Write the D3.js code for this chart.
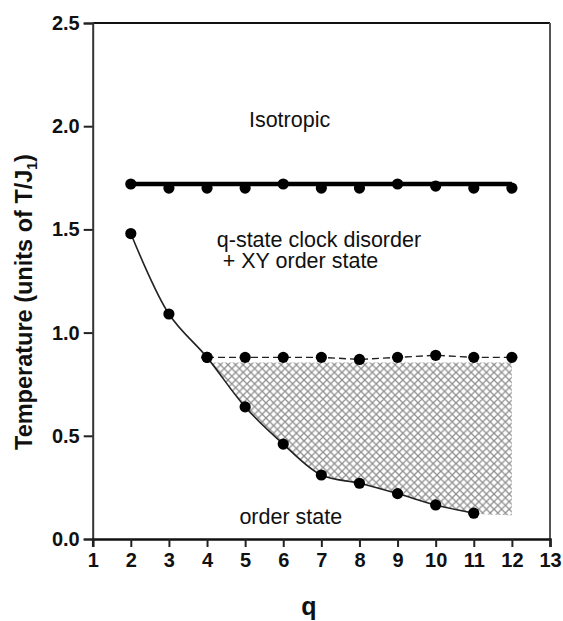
<!DOCTYPE html>
<html>
<head>
<meta charset="utf-8">
<script src="https://cdn.jsdelivr.net/npm/d3@7"></script>
<style>
  html, body { margin: 0; padding: 0; background: #fff; }
  svg { display: block; font-family: "Liberation Sans", Arial, sans-serif; }
</style>
</head>
<body>
<svg id="chart" width="563" height="621"></svg>
<script>
// ---- data ----
const qValues = [2, 3, 4, 5, 6, 7, 8, 9, 10, 11, 12];
const isotropicT = [1.72, 1.70, 1.70, 1.70, 1.72, 1.70, 1.70, 1.72, 1.71, 1.70, 1.70];
const isotropicLineT = 1.72;
const lowerQ = [2, 3, 4, 5, 6, 7, 8, 9, 10, 11];
const lowerT = [1.48, 1.09, 0.88, 0.64, 0.46, 0.31, 0.27, 0.22, 0.165, 0.125];
const dashedQ = [4, 5, 6, 7, 8, 9, 10, 11, 12];
const dashedT = [0.88, 0.88, 0.88, 0.88, 0.87, 0.88, 0.89, 0.88, 0.88];
const hatchQ = [2, 3, 4, 5, 6, 7, 8, 9, 10, 11, 12];
const hatchLowT = [1.48, 1.09, 0.88, 0.64, 0.46, 0.31, 0.27, 0.22, 0.165, 0.125, 0.115];
const hatchTopT = 0.855;
const hatchRangeQ = [4, 12];
const xTicks = [1, 2, 3, 4, 5, 6, 7, 8, 9, 10, 11, 12, 13];
const yTicks = [0.0, 0.5, 1.0, 1.5, 2.0, 2.5];
const labels = [
  { text: "Isotropic", q: 5.1, t: 1.998 },
  { text: "q-state clock disorder", q: 4.256, t: 1.416 },
  { text: " + XY order state", q: 4.256, t: 1.311 },
  { text: "order state", q: 4.85, t: 0.072 }
];

// ---- layout ----
const svg = d3.select("#chart");
const x = d3.scaleLinear().domain([1, 13]).range([92.7, 550]);
const y = d3.scaleLinear().domain([0, 2.5]).range([539, 23]);

// hatch pattern
const defs = svg.append("defs");
const P = 7.6;
const pat = defs.append("pattern")
  .attr("id", "hatch").attr("patternUnits", "userSpaceOnUse")
  .attr("width", P).attr("height", P);
pat.append("path")
  .attr("d", `M${-P/2},${P/2} L${P/2},${-P/2} M0,${P} L${P},0 M${P/2},${P*1.5} L${P*1.5},${P/2}` +
             ` M${-P/2},${P/2} L${P/2},${P*1.5} M0,0 L${P},${P} M${P/2},${-P/2} L${P*1.5},${P/2}`)
  .attr("stroke", "#8e8e8e").attr("stroke-width", 1.3).attr("fill", "none");

// clip: region above the lower curve
const clipArea = d3.area()
  .x((d, i) => x(hatchQ[i]))
  .y0(() => y(2.5))
  .y1(d => y(d))
  .curve(d3.curveCatmullRom.alpha(0.5));
defs.append("clipPath").attr("id", "aboveCurve")
  .append("path").attr("d", clipArea(hatchLowT));

svg.append("rect")
  .attr("x", x(hatchRangeQ[0]))
  .attr("y", y(hatchTopT))
  .attr("width", x(hatchRangeQ[1]) - x(hatchRangeQ[0]))
  .attr("height", y(0) - y(hatchTopT))
  .attr("fill", "url(#hatch)")
  .attr("clip-path", "url(#aboveCurve)");

// frame (top and right)
svg.append("line").attr("x1", x(1)).attr("x2", x(13)).attr("y1", y(2.5)).attr("y2", y(2.5))
  .attr("stroke", "#111").attr("stroke-width", 2);
svg.append("line").attr("x1", x(13)).attr("x2", x(13)).attr("y1", y(2.5)).attr("y2", y(0))
  .attr("stroke", "#555").attr("stroke-width", 2);

// axes
const yAxis = svg.append("g").attr("transform", `translate(${x(1)},0)`)
  .call(d3.axisLeft(y).tickValues(yTicks).tickFormat(d3.format(".1f")).tickSize(9).tickPadding(4));
const xAxis = svg.append("g").attr("transform", `translate(0,${y(0)})`)
  .call(d3.axisBottom(x).tickValues(xTicks).tickFormat(d3.format("d")).tickSize(8).tickPadding(6));
[yAxis, xAxis].forEach(g => {
  g.selectAll("path.domain").attr("stroke", "#333").attr("stroke-width", 2);
  g.selectAll(".tick line").attr("stroke", "#222").attr("stroke-width", 2);
  g.selectAll(".tick text").attr("fill", "#111")
    .style("font-size", "20px").style("font-weight", "bold")
    .style("font-family", '"Liberation Sans", Arial, sans-serif');
});
xAxis.select("path.domain").attr("stroke", "#111").attr("stroke-width", 2.5);

// thick isotropic line
svg.append("line")
  .attr("x1", x(qValues[0])).attr("x2", x(qValues[qValues.length - 1]))
  .attr("y1", y(isotropicLineT)).attr("y2", y(isotropicLineT))
  .attr("stroke", "#000").attr("stroke-width", 4.5);

// lower curve
const lineCurve = d3.line()
  .x((d, i) => x(lowerQ[i])).y(d => y(d))
  .curve(d3.curveCatmullRom.alpha(0.5));
svg.append("path").attr("d", lineCurve(lowerT))
  .attr("fill", "none").attr("stroke", "#222").attr("stroke-width", 1.6);

// dashed line
const lineDash = d3.line().x((d, i) => x(dashedQ[i])).y(d => y(d));
svg.append("path").attr("d", lineDash(dashedT))
  .attr("fill", "none").attr("stroke", "#222").attr("stroke-width", 1.4)
  .attr("stroke-dasharray", "7,4");

// markers
const R = 5.6;
svg.append("g").selectAll("circle").data(isotropicT).join("circle")
  .attr("cx", (d, i) => x(qValues[i])).attr("cy", d => y(d)).attr("r", R).attr("fill", "#000");
svg.append("g").selectAll("circle").data(lowerT).join("circle")
  .attr("cx", (d, i) => x(lowerQ[i])).attr("cy", d => y(d)).attr("r", R).attr("fill", "#000");
svg.append("g").selectAll("circle").data(dashedT).join("circle")
  .attr("cx", (d, i) => x(dashedQ[i])).attr("cy", d => y(d)).attr("r", R).attr("fill", "#000");

// region labels
svg.append("g").selectAll("text").data(labels).join("text")
  .attr("x", d => x(d.q)).attr("y", d => y(d.t))
  .attr("fill", "#111")
  .style("font-size", "21.5px")
  .style("white-space", "pre")
  .attr("xml:space", "preserve")
  .text(d => d.text);

// axis titles
svg.append("text")
  .attr("x", 309).attr("y", 615)
  .attr("text-anchor", "middle")
  .attr("fill", "#111")
  .style("font-size", "25px").style("font-weight", "bold")
  .text("q");

const yTitle = svg.append("text")
  .attr("transform", "translate(32,302) rotate(-90)")
  .attr("text-anchor", "middle")
  .attr("fill", "#111")
  .style("font-size", "23.5px").style("font-weight", "bold");
yTitle.append("tspan").text("Temperature (units of T/J");
yTitle.append("tspan").attr("dy", 5).style("font-size", "14px").text("1");
yTitle.append("tspan").attr("dy", -5).text(")");
</script>
</body>
</html>
